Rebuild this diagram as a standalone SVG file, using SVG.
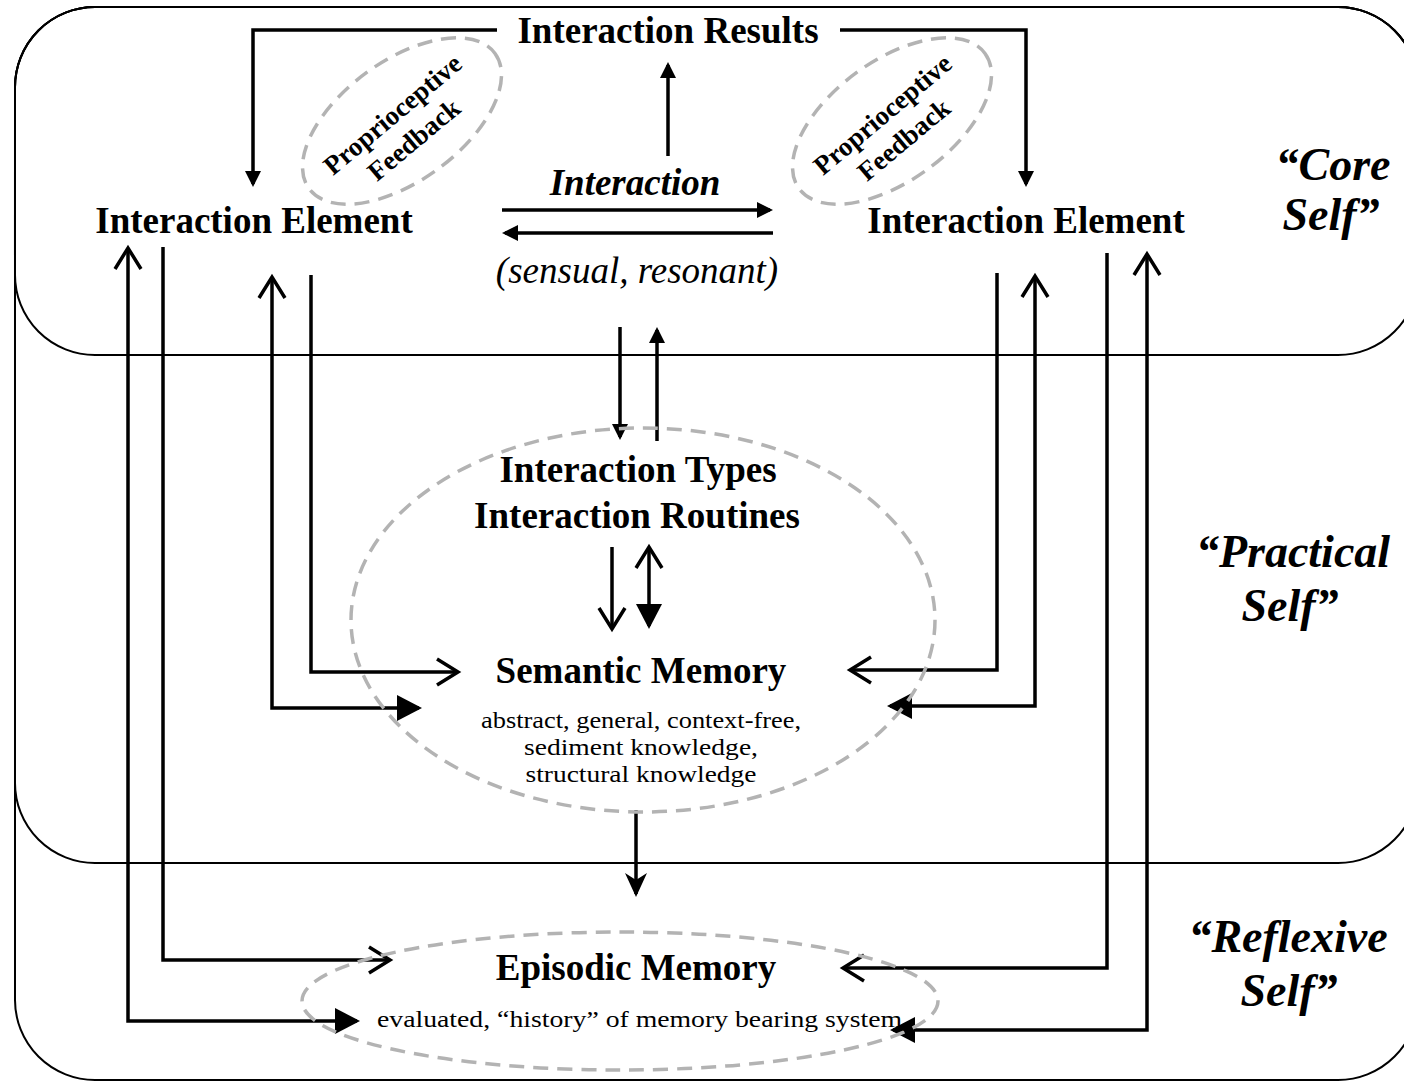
<svg xmlns="http://www.w3.org/2000/svg" width="1404" height="1082" viewBox="0 0 1404 1082">
<style>
.frame{fill:none;stroke:#000;stroke-width:2}
.dash{fill:none;stroke:#b3b3b3;stroke-width:3.5;stroke-dasharray:15 9}
.con{fill:none;stroke:#000;stroke-width:3.5}
text{font-family:"Liberation Serif","Times New Roman",serif;fill:#000}
.b{font-weight:bold;font-size:37px}
.bi{font-weight:bold;font-style:italic;font-size:37px}
.i{font-style:italic;font-size:37px}
.s{font-size:23.5px}
.pf{font-weight:bold;font-size:27px}
.self{font-weight:bold;font-style:italic;font-size:46px}
</style>
<defs>
<marker id="fs" markerUnits="userSpaceOnUse" markerWidth="16" markerHeight="16" refX="13" refY="8" orient="auto" overflow="visible"><path d="M0,0 L16,8 L0,16 z" fill="#000"/></marker>
<marker id="fl" markerUnits="userSpaceOnUse" markerWidth="26" markerHeight="26" refX="22" refY="13" orient="auto" overflow="visible"><path d="M0,0 L25,13 L0,26 z" fill="#000"/></marker>
<marker id="op" markerUnits="userSpaceOnUse" markerWidth="26" markerHeight="28" refX="21" refY="13" orient="auto-start-reverse" overflow="visible"><path d="M0,0 L21,13 L0,26" fill="none" stroke="#000" stroke-width="3.5"/></marker>
<marker id="bb" markerUnits="userSpaceOnUse" markerWidth="26" markerHeight="24" refX="21" refY="11" orient="auto" overflow="visible"><path d="M0,0 L24,11 L0,22 L7,11 z" fill="#000"/></marker>
</defs>

<g id="frames">
<rect id="reflexive-self" class="frame" x="15" y="7" width="1403" height="1073" rx="80" ry="80"/>
<rect id="practical-self" class="frame" x="15" y="7" width="1403" height="856" rx="80" ry="80"/>
<rect id="core-self" class="frame" x="15" y="7" width="1403" height="348" rx="80" ry="80"/>
</g>

<g id="connectors">
<path class="con" d="M497,30 H253 V184" marker-end="url(#fs)"/>
<path class="con" d="M840,30 H1026 V184" marker-end="url(#fs)"/>
<path class="con" d="M668,156 V65" marker-end="url(#fs)"/>
<path class="con" d="M502,210 H770" marker-end="url(#fs)"/>
<path class="con" d="M773,233 H505" marker-end="url(#fs)"/>
<path class="con" d="M620,327 V437" marker-end="url(#fs)"/>
<path class="con" d="M657,441 V330" marker-end="url(#fs)"/>
<path class="con" d="M612,547 V629" marker-end="url(#op)"/>
<path class="con" d="M649,547 V626" marker-start="url(#op)" marker-end="url(#fl)"/>
<path class="con" d="M636,810 V894" marker-end="url(#bb)"/>
<path class="con" d="M128,248 V1021 H357" marker-start="url(#op)" marker-end="url(#fl)"/>
<path class="con" d="M163,247 V960 H390" marker-end="url(#op)"/>
<path class="con" d="M272,277 V708 H419" marker-start="url(#op)" marker-end="url(#fl)"/>
<path class="con" d="M311,275 V672 H458" marker-end="url(#op)"/>
<path class="con" d="M997,273 V670 H850" marker-end="url(#op)"/>
<path class="con" d="M1035,276 V706 H890" marker-start="url(#op)" marker-end="url(#fl)"/>
<path class="con" d="M1107,253 V968 H843" marker-end="url(#op)"/>
<path class="con" d="M1147,254 V1030 H893" marker-start="url(#op)" marker-end="url(#fl)"/>
</g>

<g id="interaction-results"><text class="b" x="668" y="43" text-anchor="middle">Interaction Results</text></g>
<g id="interaction-element-left"><text class="b" x="254" y="233" text-anchor="middle">Interaction Element</text></g>
<g id="interaction-element-right"><text class="b" x="1026" y="233" text-anchor="middle">Interaction Element</text></g>
<g id="interaction"><text class="bi" x="635" y="195" text-anchor="middle">Interaction</text>
<text class="i" x="637" y="283" text-anchor="middle">(sensual, resonant)</text></g>

<g id="proprioceptive-left">
<ellipse class="dash" cx="402" cy="121" rx="115" ry="60" transform="rotate(-36 402 121)"/>
<g transform="rotate(-40 402 121)"><text class="pf" x="399" y="119" text-anchor="middle">Proprioceptive</text><text class="pf" x="399" y="152" text-anchor="middle">Feedback</text></g>
</g>
<g id="proprioceptive-right">
<ellipse class="dash" cx="892" cy="121" rx="115" ry="60" transform="rotate(-36 892 121)"/>
<g transform="rotate(-40 892 121)"><text class="pf" x="889" y="119" text-anchor="middle">Proprioceptive</text><text class="pf" x="889" y="152" text-anchor="middle">Feedback</text></g>
</g>

<g id="interaction-types">
<ellipse class="dash" cx="643" cy="620" rx="292" ry="192"/>
<text class="b" x="638" y="482" text-anchor="middle">Interaction Types</text>
<text class="b" x="637" y="528" text-anchor="middle">Interaction Routines</text>
</g>
<g id="semantic-memory">
<text class="b" x="641" y="683" text-anchor="middle">Semantic Memory</text>
<text class="s" x="641" y="728" text-anchor="middle" textLength="320" lengthAdjust="spacingAndGlyphs">abstract, general, context-free,</text>
<text class="s" x="641" y="755" text-anchor="middle" textLength="234" lengthAdjust="spacingAndGlyphs">sediment knowledge,</text>
<text class="s" x="641" y="782" text-anchor="middle" textLength="231" lengthAdjust="spacingAndGlyphs">structural knowledge</text>
</g>
<g id="episodic-memory">
<ellipse class="dash" cx="620" cy="1001" rx="318" ry="69"/>
<text class="b" x="636" y="980" text-anchor="middle">Episodic Memory</text>
<text class="s" x="643" y="1027" text-anchor="middle" textLength="532" lengthAdjust="spacingAndGlyphs">evaluated, “history” of memory bearing system,</text>
</g>

<g id="labels">
<text class="self" x="1333" y="180" text-anchor="middle">“Core</text>
<text class="self" x="1331" y="230" text-anchor="middle">Self”</text>
<text class="self" x="1293" y="567" text-anchor="middle">“Practical</text>
<text class="self" x="1290" y="621" text-anchor="middle">Self”</text>
<text class="self" x="1288" y="952" text-anchor="middle">“Reflexive</text>
<text class="self" x="1289" y="1006" text-anchor="middle">Self”</text>
</g>
</svg>
